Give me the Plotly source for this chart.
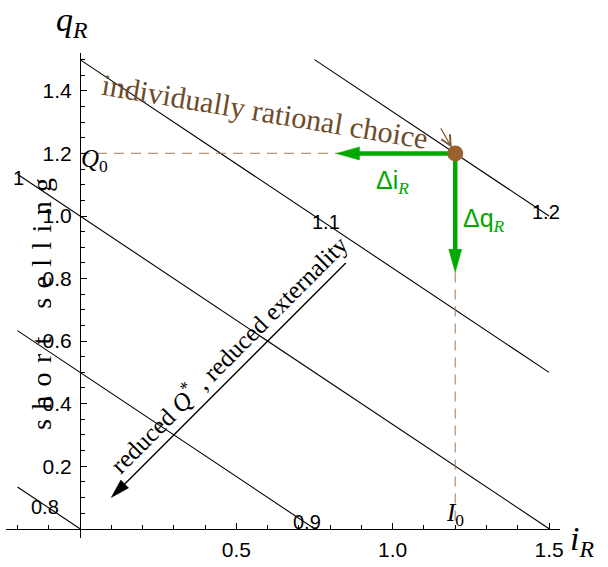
import plotly.graph_objects as go

# ---------------- data ----------------
levels = [0.8, 0.9, 1.0, 1.1, 1.2]          # contour levels
level_labels = ["0.8", "0.9", "1", "1.1", "1.2"]
base_level = 0.8                             # level of the contour through the origin
level_per_q = 0.2                            # level increase per unit of q-intercept
contour_slope = -2.0 / 3.0                   # dq/di along each contour
i_domain = [-0.2, 1.5]
q_domain = [0.0, 1.5]

I0 = 1.2
Q0 = 1.2
delta_i = 0.38
delta_q = 0.38

ext_arrow_from = [0.85, 0.85]
ext_arrow_to = [0.10, 0.10]

x_tickvals = [0.5, 1.0, 1.5]
x_ticktext = ["0.5", "1.0", "1.5"]
y_tickvals = [0.2, 0.4, 0.6, 0.8, 1.0, 1.2, 1.4]
y_ticktext = ["0.2", "0.4", "0.6", "0.8", "1.0", "1.2", "1.4"]
x_minor = [-0.2, -0.1, 0.1, 0.2, 0.3, 0.4, 0.6, 0.7, 0.8, 0.9, 1.1, 1.2, 1.3, 1.4]
y_minor = [0.05, 0.1, 0.15, 0.25, 0.3, 0.35, 0.45, 0.5, 0.55, 0.65, 0.7, 0.75,
           0.85, 0.9, 0.95, 1.05, 1.1, 1.15, 1.25, 1.3, 1.35, 1.45, 1.5]

# ---------------- geometry / style ----------------
W, H = 608, 567
ML, MR, MT, MB = 6, 48, 53, 29
OX, OY = 80.0, 528.7       # pixel of origin
S = 312.7                  # px per unit (both axes)
xmin = -(OX - ML) / S
xmax = xmin + (W - ML - MR) / S
ymax = (OY - MT) / S
ymin = ymax - (H - MT - MB) / S

SERIF = "Liberation Serif"
SANS = "Liberation Sans"
GREEN = "#00a800"
BROWN_DOT = "#98622f"
BROWN_TXT = "#6e4b2a"
DASH_COL = "rgba(160,115,75,0.75)"

fig = go.Figure()

# contour lines  q = c + slope*i, c from level
for L in levels:
    c = (L - base_level) / level_per_q
    i_lo = max(i_domain[0], (q_domain[1] - c) / contour_slope)
    i_hi = min(i_domain[1], (q_domain[0] - c) / contour_slope)
    fig.add_trace(go.Scatter(x=[i_lo, i_hi], y=[c + contour_slope * i_lo, c + contour_slope * i_hi],
                             mode="lines", line=dict(color="black", width=1.1),
                             hoverinfo="skip", showlegend=False))

# dashed guides
fig.add_trace(go.Scatter(x=[0, I0], y=[Q0, Q0], mode="lines",
                         line=dict(color=DASH_COL, width=1.3, dash="10px,7px"),
                         showlegend=False, hoverinfo="skip"))
fig.add_trace(go.Scatter(x=[I0, I0], y=[Q0, 0], mode="lines",
                         line=dict(color=DASH_COL, width=1.3, dash="10px,7px"),
                         showlegend=False, hoverinfo="skip"))


def arrow(x0, y0, x1, y1, color, width, hl, hw):
    dx, dy = x1 - x0, y1 - y0
    n = (dx * dx + dy * dy) ** 0.5
    ux, uy = dx / n, dy / n
    bx, by = x1 - ux * hl / S, y1 - uy * hl / S
    px, py = -uy, ux
    fig.add_trace(go.Scatter(x=[x0, bx + ux * 1 / S], y=[y0, by + uy * 1 / S], mode="lines",
                             line=dict(color=color, width=width),
                             showlegend=False, hoverinfo="skip"))
    fig.add_trace(go.Scatter(x=[x1, bx + px * hw / 2 / S, bx - px * hw / 2 / S, x1],
                             y=[y1, by + py * hw / 2 / S, by - py * hw / 2 / S, y1],
                             mode="lines", fill="toself", fillcolor=color,
                             line=dict(color=color, width=0.5),
                             showlegend=False, hoverinfo="skip"))


# green arrows
arrow(I0, Q0, I0 - delta_i, Q0, GREEN, 4.5, 23, 13)
arrow(I0, Q0, I0, Q0 - delta_q, GREEN, 4.5, 23, 13)
# externality arrow
arrow(ext_arrow_from[0], ext_arrow_from[1], ext_arrow_to[0], ext_arrow_to[1], "black", 1.4, 19, 11)

# dot
fig.add_trace(go.Scatter(x=[I0], y=[Q0], mode="markers",
                         marker=dict(color=BROWN_DOT, size=16, line=dict(width=0)),
                         showlegend=False, hoverinfo="skip"))

ann = []


def px2d(px, py):
    return (px - OX) / S, (OY - py) / S


def txt(px, py, text, size, family=SANS, color="black", angle=0, paper=False):
    if paper:
        x = (px - ML) / (W - ML - MR)
        y = (H - MB - py) / (H - MT - MB)
        xr, yr = "paper", "paper"
    else:
        x, y = px2d(px, py)
        xr, yr = "x", "y"
    ann.append(dict(x=x, y=y, xref=xr, yref=yr, text=text, showarrow=False,
                    font=dict(family=family, size=size, color=color), textangle=angle,
                    xanchor="center", yanchor="middle"))


# contour labels
lab_pos = {"0.8": (45, 507), "0.9": (307, 522), "1": (18, 178), "1.1": (326, 222), "1.2": (546, 212)}
for lab in level_labels:
    txt(*lab_pos[lab], lab, 20)

# Q0 / I0
txt(94, 160, "<i>Q</i><sub>0</sub>", 25, SERIF)
txt(455, 514, "<i>I</i><sub>0</sub>", 25, SERIF)

# delta labels
sub_r = "<sub><span style='font-family:Liberation Serif'><i>R</i></span></sub>"
txt(392, 182, "Δi" + sub_r, 25, SANS, GREEN)
txt(484, 220, "Δq" + sub_r, 25, SANS, GREEN)

# rotated annotations
txt(265, 111, "individually rational choice", 30, SERIF, BROWN_TXT, angle=9.5)
txt(228, 353, "reduced <i>Q</i><sup>*</sup> , reduced externality", 25, SERIF, "black", angle=-45)
sp = "\u2004"
txt(41, 304, sp.join("short") + sp * 3 + sp.join("selling"), 28, SERIF, "black", angle=-90)

# axis titles (outside the plotting area -> paper coordinates)
txt(72, 22, "<i>q</i><sub><i>R</i></sub>", 34, SERIF, paper=True)
txt(582, 541, "<i>i</i><sub><i>R</i></sub>", 34, SERIF, paper=True)

# small brown pointer arrow
ann.append(dict(x=I0, y=Q0, xref="x", yref="y", ax=1.151, ay=1.285, axref="x", ayref="y",
                text="", showarrow=True, arrowhead=5, arrowsize=1.8, arrowwidth=1.1,
                arrowcolor="#7a5535", standoff=7))

fig.update_layout(
    width=W, height=H, margin=dict(l=ML, r=MR, t=MT, b=MB, pad=0),
    paper_bgcolor="white", plot_bgcolor="white", showlegend=False,
    annotations=ann,
    xaxis=dict(range=[xmin, xmax], anchor="free", position=(0 - ymin) / (ymax - ymin),
               showline=True, linecolor="black", linewidth=1, showgrid=False, zeroline=False,
               ticks="inside", ticklen=6, tickwidth=1, tickcolor="black",
               tickmode="array", tickvals=x_tickvals, ticktext=x_ticktext,
               tickfont=dict(family=SANS, size=21, color="black"), ticklabelstandoff=2,
               minor=dict(ticks="inside", ticklen=4, tickwidth=1, tickcolor="black",
                          tickmode="array", tickvals=x_minor),
               automargin=False, fixedrange=True),
    yaxis=dict(range=[ymin, ymax], anchor="free", position=(0 - xmin) / (xmax - xmin),
               showline=True, linecolor="black", linewidth=1, showgrid=False, zeroline=False,
               ticks="inside", ticklen=6, tickwidth=1, tickcolor="black",
               tickmode="array", tickvals=y_tickvals, ticktext=y_ticktext,
               tickfont=dict(family=SANS, size=21, color="black"), ticklabelstandoff=4,
               minor=dict(ticks="inside", ticklen=4, tickwidth=1, tickcolor="black",
                          tickmode="array", tickvals=y_minor),
               automargin=False, fixedrange=True),
)

fig.write_html("out.html")
